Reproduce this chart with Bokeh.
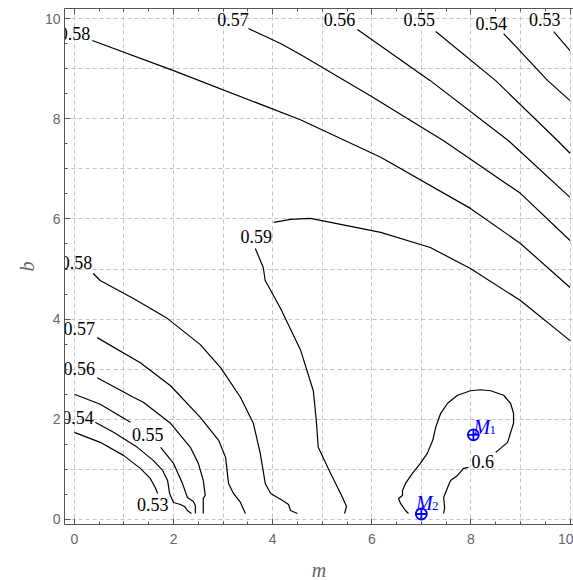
from bokeh.plotting import figure
from bokeh.models import ColumnDataSource, SingleIntervalTicker, LinearAxis, CustomJSTickFormatter
from bokeh.core.properties import value
from bokeh.embed import file_html
from bokeh.resources import INLINE

# ---------------- data ----------------
# contour lines, visible pieces (gaps are where the level labels sit)
c053_a_x = [9.67, 10.0]
c053_a_y = [9.74, 9.36]
c054_a_x = [8.66, 9.55, 10.0]
c054_a_y = [9.70, 8.76, 8.36]
c055_a_x = [7.29, 8.50, 9.75, 10.0]
c055_a_y = [9.74, 8.76, 7.56, 7.31]
c056_a_x = [5.71, 7.18, 8.76, 10.0]
c056_a_y = [9.78, 8.76, 7.56, 6.43]
c057_a_x = [3.51, 4.16, 4.56, 5.97, 7.45, 9.00, 10.0]
c057_a_y = [9.80, 9.50, 9.28, 8.46, 7.56, 6.51, 5.57]
c058_a_x = [0.36, 2.00, 4.56, 6.18, 7.99, 9.00, 10.0]
c058_a_y = [9.56, 8.96, 7.98, 7.23, 6.21, 5.51, 4.63]
c059_a_x = [4.02, 4.36, 4.76, 5.17, 6.18, 7.18, 7.99, 9.00, 10.0]
c059_a_y = [5.93, 5.99, 6.01, 5.93, 5.73, 5.43, 5.01, 4.37, 3.57]
c059_b_x = [3.65, 3.81, 3.85, 4.16, 4.56, 4.82, 4.88, 4.92, 5.17, 5.41, 5.49, 5.45]
c059_b_y = [5.41, 5.03, 4.77, 4.21, 3.39, 2.57, 1.98, 1.44, 0.92, 0.44, 0.26, 0.12]
c060_a_x = [8.50, 8.74, 8.86, 8.86, 8.80, 8.66, 8.40, 8.19, 7.99, 7.73, 7.53, 7.39,
            7.29, 7.23, 7.12, 6.98, 6.82, 6.68, 6.62, 6.62, 6.54, 6.58, 6.68, 6.74]
c060_a_y = [1.34, 1.54, 1.92, 2.12, 2.32, 2.48, 2.57, 2.59, 2.57, 2.48, 2.32, 2.12,
            1.84, 1.58, 1.32, 1.12, 0.92, 0.72, 0.58, 0.48, 0.42, 0.32, 0.18, 0.12]
c060_b_x = [7.95, 7.85, 7.73, 7.59, 7.53, 7.45, 7.47, 7.45]
c060_b_y = [1.04, 1.02, 0.88, 0.78, 0.64, 0.44, 0.24, 0.12]
c058_b_x = [0.38, 0.52, 1.19, 1.88, 2.54, 2.95, 3.35, 3.61, 3.75, 3.85, 3.96, 4.20, 4.32, 4.36, 4.50]
c058_b_y = [4.91, 4.77, 4.41, 4.01, 3.49, 3.03, 2.44, 1.92, 1.32, 0.72, 0.52, 0.38, 0.30, 0.18, 0.12]
c057_b_x = [0.46, 1.33, 1.94, 2.54, 2.91, 3.05, 3.11, 3.21, 3.35, 3.45]
c057_b_y = [3.63, 3.13, 2.67, 2.04, 1.58, 1.24, 0.72, 0.52, 0.34, 0.12]
c056_b_x = [0.46, 1.19, 1.39, 1.94, 2.34, 2.50, 2.60, 2.64, 2.60, 2.60]
c056_b_y = [2.83, 2.44, 2.34, 1.92, 1.44, 1.12, 0.78, 0.48, 0.42, 0.12]
c055_b_x = [0.0, 0.52, 1.13]
c055_b_y = [2.50, 2.30, 1.94]
c055_c_x = [1.74, 2.00, 2.18, 2.28, 2.40, 2.44, 2.44]
c055_c_y = [1.44, 1.12, 0.72, 0.44, 0.36, 0.28, 0.12]
c054_b_x = [0.42, 0.79, 1.27, 1.59, 1.78, 1.88, 1.92, 2.00, 2.14, 2.22, 2.28, 2.36]
c054_b_y = [1.94, 1.74, 1.44, 1.18, 0.98, 0.78, 0.52, 0.34, 0.30, 0.26, 0.18, 0.12]
c053_b_x = [0.0, 0.52, 0.99, 1.33, 1.53, 1.63, 1.68]
c053_b_y = [1.74, 1.54, 1.28, 1.02, 0.82, 0.64, 0.52]

# contour level labels
label_text = ["0.53", "0.54", "0.55", "0.56", "0.57", "0.58", "0.59",
              "0.58", "0.57", "0.56", "0.54", "0.55", "0.53", "0.6"]
label_x = [9.49, 8.41, 6.96, 5.35, 3.20, 0.00, 3.67, 0.04, 0.10, 0.10, 0.07, 1.48, 1.58, 8.24]
label_y = [9.99, 9.91, 9.99, 9.99, 9.98, 9.70, 5.65, 5.12, 3.82, 3.02, 2.04, 1.70, 0.30, 1.16]

# marked points
point_x = [8.05, 7.00]
point_y = [1.69, 0.11]
point_name = ["M", "M"]
point_sub = ["1", "2"]
point_label_x = [8.05, 6.89]
point_label_y = [1.84, 0.32]

# ---------------- figure ----------------
SERIF = "'Liberation Serif', 'Times New Roman', serif"
SANS = "'Liberation Sans', Arial, sans-serif"

p = figure(frame_width=509, frame_height=516,
           x_range=(-0.2, 10.07), y_range=(-0.1, 10.2),
           output_backend="svg", toolbar_location=None,
           min_border_left=64, min_border_right=0, min_border_top=8, min_border_bottom=56,
           background_fill_color="white", border_fill_color="white")
p.outline_line_color = None

GRAY = "#666666"
AX = "#555555"

for ax in (p.xaxis[0], p.yaxis[0]):
    ax.ticker = SingleIntervalTicker(interval=2, num_minor_ticks=4)
    ax.axis_line_color = AX
    ax.major_tick_line_color = AX
    ax.minor_tick_line_color = AX
    ax.major_tick_in = 6
    ax.major_tick_out = 0
    ax.minor_tick_in = 3
    ax.minor_tick_out = 0
    ax.major_label_text_font = SANS
    ax.major_label_text_font_size = "14px"
    ax.major_label_text_color = GRAY
    ax.axis_label_text_font = SERIF
    ax.axis_label_text_font_style = "italic"
    ax.axis_label_text_font_size = "20px"
    ax.axis_label_text_color = GRAY
p.xaxis.axis_label = "m"
p.yaxis.axis_label = "b"
p.xaxis.major_label_standoff = 9
p.yaxis.major_label_standoff = 4
p.xaxis.axis_label_standoff = 12
p.yaxis.axis_label_standoff = 4

top = LinearAxis(ticker=SingleIntervalTicker(interval=2, num_minor_ticks=4),
                 formatter=CustomJSTickFormatter(code="return ''"),
                 axis_line_color=AX, major_tick_line_color=AX, minor_tick_line_color=AX,
                 major_tick_in=6, major_tick_out=0, minor_tick_in=3, minor_tick_out=0,
                 major_label_standoff=0)
p.add_layout(top, "above")

for g in (p.xgrid[0], p.ygrid[0]):
    g.ticker = SingleIntervalTicker(interval=1, num_minor_ticks=0)
    g.grid_line_color = "#c4c4c4"
    g.grid_line_dash = "4 3"
    g.grid_line_width = 1

xs = [c053_a_x, c054_a_x, c055_a_x, c056_a_x, c057_a_x, c058_a_x, c059_a_x, c059_b_x,
      c060_a_x, c060_b_x, c058_b_x, c057_b_x, c056_b_x, c055_b_x, c055_c_x, c054_b_x, c053_b_x]
ys = [c053_a_y, c054_a_y, c055_a_y, c056_a_y, c057_a_y, c058_a_y, c059_a_y, c059_b_y,
      c060_a_y, c060_b_y, c058_b_y, c057_b_y, c056_b_y, c055_b_y, c055_c_y, c054_b_y, c053_b_y]
p.multi_line(xs=xs, ys=ys, line_color="black", line_width=1.2)

lab_src = ColumnDataSource(dict(x=label_x, y=label_y, t=label_text))
p.text(x="x", y="y", text="t", source=lab_src, text_font=value(SERIF),
       text_font_size="18px", text_align="center", text_baseline="middle", text_color="black")

p.scatter(point_x, point_y, marker="circle_cross", size=11, line_color="blue",
          line_width=1.8, fill_color="white")

pl_src = ColumnDataSource(dict(x=point_label_x, y=point_label_y, n=point_name, s=point_sub))
p.text(x="x", y="y", text="n", source=pl_src, text_font=value(SERIF),
       text_font_style="italic", text_font_size="20px", text_align="left",
       text_baseline="alphabetic", text_color="blue")
p.text(x="x", y="y", text="s", source=pl_src, text_font=value(SERIF),
       text_font_size="13px", text_align="left", text_baseline="alphabetic",
       text_color="blue", x_offset=16, y_offset=3)

open("out.html", "w").write(file_html(p, INLINE))
